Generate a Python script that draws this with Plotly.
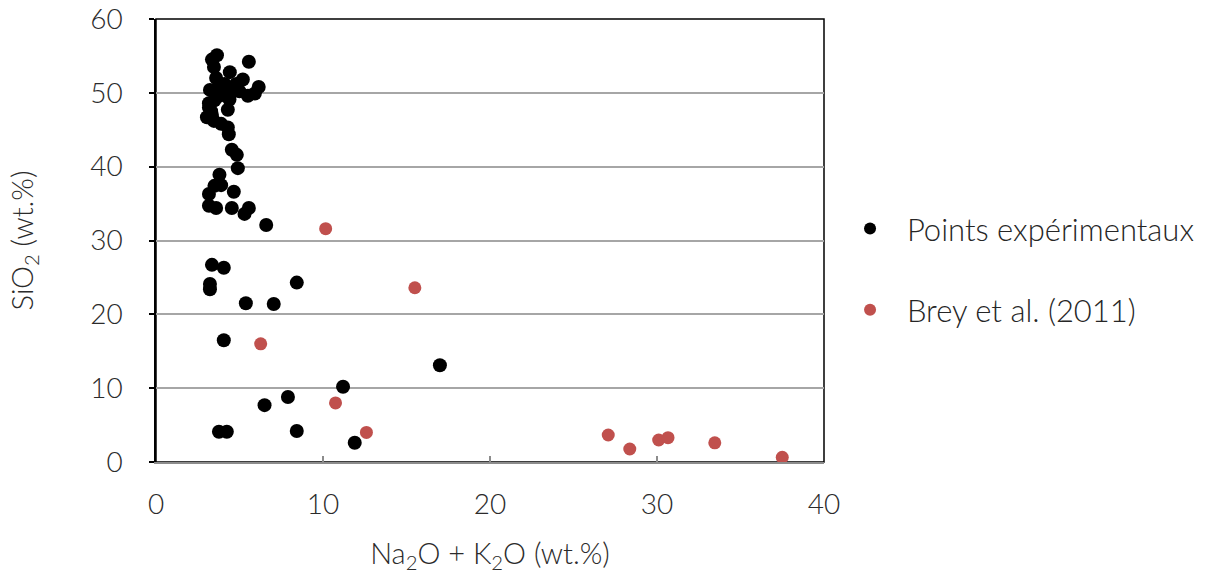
import plotly.graph_objects as go

# Points expérimentaux (Na2O + K2O, SiO2)
exp_x = [3.65, 3.35, 3.47, 5.56, 4.42, 3.6, 3.8, 5.2, 4.8, 4.1, 6.15, 3.23, 5.92, 5.5, 4.4, 3.17,
         3.8, 3.17, 4.3, 3.35, 3.05, 3.47, 3.9, 4.3, 4.36, 4.0, 3.5, 4.6, 5.0, 3.3,
         4.54, 4.84, 4.9, 3.8, 3.9, 3.5, 4.66, 3.17, 3.17, 3.6, 4.54, 5.56, 5.3, 6.6,
         3.35, 4.06, 3.23, 3.23, 8.43, 5.38, 7.05, 4.06, 11.2, 17.0, 7.9, 6.5,
         3.77, 4.24, 8.43, 11.9]
exp_y = [55.1, 54.5, 53.5, 54.2, 52.8, 52.0, 51.0, 51.8, 51.2, 51.2, 50.8, 50.4, 49.9, 49.6, 49.1, 48.6,
         49.6, 48.0, 47.7, 47.0, 46.7, 46.2, 45.8, 45.3, 44.4, 50.0, 49.0, 50.3, 50.2, 47.5,
         42.3, 41.6, 39.8, 38.9, 37.5, 37.4, 36.6, 36.3, 34.7, 34.4, 34.4, 34.4, 33.6, 32.1,
         26.7, 26.3, 24.1, 23.4, 24.3, 21.5, 21.4, 16.5, 10.2, 13.1, 8.8, 7.7,
         4.1, 4.1, 4.2, 2.6]

# Brey et al. (2011)
brey_x = [10.16, 15.5, 6.27, 10.75, 12.6, 27.08, 28.37, 30.1, 30.66, 33.46, 37.5]
brey_y = [31.6, 23.6, 16.0, 8.0, 4.0, 3.66, 1.76, 2.98, 3.3, 2.6, 0.63]

x_ticks = [0, 10, 20, 30, 40]
y_ticks = [0, 10, 20, 30, 40, 50, 60]

FONT = "Lato"
TXT = "#2B2B2B"
TICK_FS = 28
TITLE_FS = 29
LEG_FS = 31
PAD = "\u00a0\u00a0"

fig = go.Figure()
fig.add_trace(go.Scatter(x=exp_x, y=exp_y, mode="markers", name=PAD + "Points expérimentaux",
                         legendgroup="a",
                         marker=dict(color="black", size=14, line=dict(width=0))))
fig.add_trace(go.Scatter(x=brey_x, y=brey_y, mode="markers", name=PAD + "Brey et al. (2011)",
                         legendgroup="b",
                         marker=dict(color="#C0504D", size=13, line=dict(width=0))))

fig.add_shape(type="rect", xref="paper", yref="paper", x0=0, x1=1, y0=0, y1=1,
              line=dict(color="black", width=1.5), layer="below")

fig.update_layout(
    width=1208, height=575,
    margin=dict(l=156, r=384, t=19, b=113, autoexpand=False),
    plot_bgcolor="white", paper_bgcolor="white",
    font=dict(family=FONT, size=TICK_FS, color=TXT, weight=300),
    showlegend=True,
    legend=dict(x=1.039, y=0.435, xanchor="left", yanchor="middle",
                tracegroupgap=38, itemsizing="constant",
                font=dict(family=FONT, size=LEG_FS, color="#262626", weight=300)),
    xaxis=dict(range=[0, 40], tickvals=x_ticks, showgrid=False, zeroline=False,
               automargin=False, ticklabeloverflow="allow",
               showline=True, linecolor="#8C8C8C", linewidth=2,
               ticks="inside", ticklen=6, tickcolor="#8C8C8C", tickwidth=1.5,
               ticklabelstandoff=16,
               tickfont=dict(family=FONT, size=TICK_FS, color=TXT, weight=300),
               title=dict(text="Na<sub>2</sub>O + K<sub>2</sub>O (wt.%)", standoff=25,
                          font=dict(family=FONT, size=TITLE_FS, color=TXT, weight=300))),
    yaxis=dict(range=[0, 60], tickvals=y_ticks, showgrid=True, gridcolor="#A6A6A6", gridwidth=1.5,
               automargin=False, ticklabeloverflow="allow",
               zeroline=False, showline=True, linecolor="black", linewidth=1.5,
               ticks="outside", ticklen=5, tickcolor="black", tickwidth=1.5,
               ticklabelstandoff=21,
               tickfont=dict(family=FONT, size=TICK_FS, color=TXT, weight=300),
               title=dict(text="SiO<sub>2</sub> (wt.%)", standoff=48,
                          font=dict(family=FONT, size=TITLE_FS, color=TXT, weight=300))),
)

fig.write_html("out.html", config={"displayModeBar": False},
               post_script="document.body.style.margin='0';document.body.style.overflow='hidden';")
